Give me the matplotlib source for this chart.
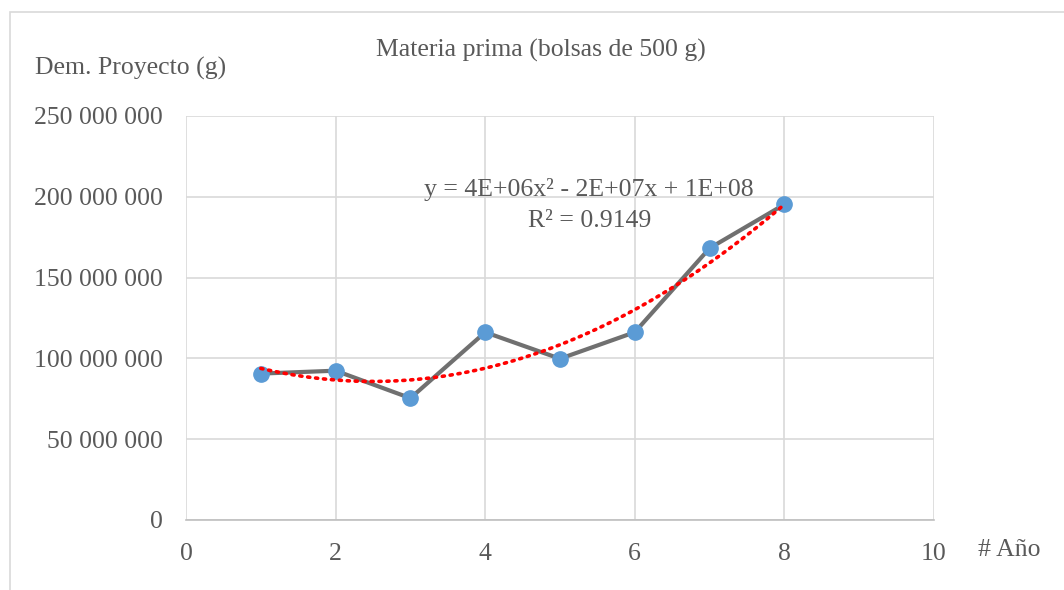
import numpy as np
import matplotlib
matplotlib.use('Agg')
from matplotlib import pyplot as plt
from matplotlib.ticker import FuncFormatter
from matplotlib.patches import Rectangle

# datos
anios = [1, 2, 3, 4, 5, 6, 7, 8]
demanda = [90.6e6, 92.4e6, 75.4e6, 116.2e6, 99.8e6, 116.2e6, 168.2e6, 195.3e6]
titulo = 'Materia prima (bolsas de 500 g)'
ecuacion = 'y = 4E+06x² - 2E+07x + 1E+08'
r2_texto = 'R² = 0.9149'

plt.rcParams['font.family'] = ['Liberation Serif', 'DejaVu Serif']
gris_txt = '#595959'

fig = plt.figure(figsize=(10.64, 5.90), dpi=100)
fig.patches.append(Rectangle((10 / 1064, -0.1), 1.2, 1 - 12 / 590 + 0.1,
                             transform=fig.transFigure, fill=False,
                             edgecolor='#d9d9d9', linewidth=1.2))
ax = fig.add_axes([186 / 1064, 1 - 520 / 590, 748 / 1064, 404 / 590])

# tendencia polinómica de orden 2
coef = np.polyfit(anios, demanda, 2)
xs = np.linspace(1, 8, 200)
ax.plot(xs, np.polyval(coef, xs), color='red', linestyle=(0, (0.6, 1.6)),
        linewidth=2.6, dash_capstyle='round', zorder=3)

ax.plot(anios, demanda, color='#707070', linewidth=3, marker='o',
        markersize=11, markerfacecolor='#5b9bd5', markeredgecolor='#5b9bd5',
        zorder=2)

ax.set_xlim(0, 10)
ax.set_ylim(0, 250e6)
ax.set_xticks(range(0, 11, 2))
ax.set_yticks(np.arange(0, 250e6 + 1, 50e6))
ax.yaxis.set_major_formatter(FuncFormatter(lambda v, p: f'{int(v):,}'.replace(',', ' ')))
ax.grid(True, color='#d9d9d9', linewidth=1.2)
ax.set_axisbelow(True)
for s in ['top', 'right', 'left']:
    ax.spines[s].set_visible(False)
ax.spines['bottom'].set_color('#bfbfbf')
ax.spines['bottom'].set_linewidth(1.2)
ax.tick_params(length=0, labelsize=18.5, labelcolor=gris_txt)
ax.tick_params(axis='y', pad=16.5)
ax.tick_params(axis='x', pad=16.5)

fig.text(541 / 1064, 1 - 50 / 590, titulo, ha='center', va='center',
         fontsize=18.5, color=gris_txt)
fig.text(35 / 1064, 1 - 68 / 590, 'Dem. Proyecto (g)', ha='left', va='center',
         fontsize=18.5, color=gris_txt)
fig.text(978 / 1064, 1 - 550 / 590, '# Año', ha='left', va='center',
         fontsize=18.5, color=gris_txt)
ax.text(5.39, 204.8e6, ecuacion, ha='center', va='center', fontsize=18.5, color=gris_txt)
ax.text(5.39, 185e6, r2_texto, ha='center', va='center', fontsize=18.5, color=gris_txt)

plt.savefig('out.png', dpi=100)
